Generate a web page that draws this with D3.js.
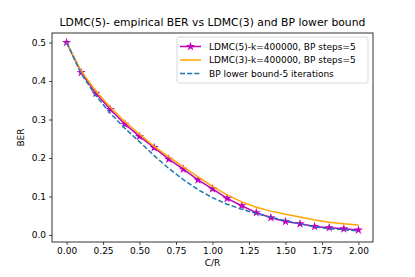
<!DOCTYPE html>
<html>
<head>
<meta charset="utf-8">
<script src="https://cdn.jsdelivr.net/npm/d3@7"></script>
<style>
html,body{margin:0;padding:0;background:#fff;}
svg{display:block;font-family:"DejaVu Sans",sans-serif;}
</style>
</head>
<body>
<svg id="chart" width="415" height="277"></svg>
<script>
const cr = [0,0.1,0.2,0.3,0.4,0.5,0.6,0.7,0.8,0.9,1.0,1.1,1.2,1.3,1.4,1.5,1.6,1.7,1.8,1.9,2.0];
const ldmc5 = [0.5,0.422,0.368,0.326,0.288,0.256,0.227,0.197,0.171,0.143,0.120,0.095,0.076,0.058,0.045,0.035,0.029,0.022,0.019,0.016,0.013];
const ldmc3 = [0.5,0.426,0.374,0.332,0.294,0.262,0.230,0.203,0.177,0.151,0.126,0.104,0.086,0.072,0.062,0.054,0.047,0.039,0.033,0.029,0.026];
const bpBound = [0.5,0.419,0.362,0.316,0.277,0.242,0.206,0.173,0.144,0.118,0.097,0.080,0.067,0.056,0.046,0.037,0.029,0.021,0.0165,0.0138,0.0105];
const xTicks = [0,0.25,0.5,0.75,1.0,1.25,1.5,1.75,2.0];
const yTicks = [0,0.1,0.2,0.3,0.4,0.5];
const seriesNames = ["LDMC(5)-k=400000, BP steps=5","LDMC(3)-k=400000, BP steps=5","BP lower bound-5 iterations"];
const titleText = "LDMC(5)- empirical BER vs LDMC(3) and BP lower bound";

const svg = d3.select("#chart");
const L = 52, R = 373, T = 33, B = 242;
const x = d3.scaleLinear().domain([-0.1, 2.1]).range([L, R]);
const y = d3.scaleLinear().domain([-0.0182, 0.5247]).range([B, T]);

const series = [
  {name: seriesNames[0], vals: ldmc5, color: "#bf00bf", dash: null, marker: true},
  {name: seriesNames[1], vals: ldmc3, color: "#ffa500", dash: null, marker: false},
  {name: seriesNames[2], vals: bpBound, color: "#1f77b4", dash: "5,2.2", marker: false}
];

const line = d3.line().x((d,i)=>x(cr[i])).y(d=>y(d));
const star = d3.symbol().type(d3.symbolStar).size(26);

series.forEach(s => {
  svg.append("path").attr("d", line(s.vals)).attr("fill","none")
    .attr("stroke", s.color).attr("stroke-width", 1.5)
    .attr("stroke-dasharray", s.dash);
  if (s.marker) {
    svg.selectAll(null).data(s.vals).enter().append("path")
      .attr("d", star)
      .attr("transform", (d,i)=>`translate(${x(cr[i])},${y(d)})`)
      .attr("fill", s.color);
  }
});

// axes
const xAxis = d3.axisBottom(x).tickValues(xTicks).tickFormat(d3.format(".2f")).tickSize(3).tickPadding(3);
const yAxis = d3.axisLeft(y).tickValues(yTicks).tickFormat(d3.format(".1f")).tickSize(3).tickPadding(3);
const gx = svg.append("g").attr("transform", `translate(0,${B})`).call(xAxis);
const gy = svg.append("g").attr("transform", `translate(${L},0)`).call(yAxis);
[gx, gy].forEach(g => {
  g.select(".domain").remove();
  g.selectAll("text").attr("font-size", 9).attr("font-family","DejaVu Sans").attr("fill","#000");
  g.selectAll("line").attr("stroke","#000").attr("stroke-width",0.7);
});

svg.append("rect").attr("x", L).attr("y", T).attr("width", R-L).attr("height", B-T)
  .attr("fill","none").attr("stroke","#000").attr("stroke-width",0.8);

// labels
svg.append("text").attr("x", (L+R)/2).attr("y", 266).attr("text-anchor","middle")
  .attr("font-size", 9).text("C/R");
svg.append("text").attr("transform", `translate(24,${(T+B)/2}) rotate(-90)`)
  .attr("text-anchor","middle").attr("font-size", 9).text("BER");
svg.append("text").attr("x", (L+R)/2).attr("y", 26).attr("text-anchor","middle")
  .attr("font-size", 10.8).text(titleText);

// legend
const lg = svg.append("g");
lg.append("rect").attr("x",177).attr("y",37).attr("width",191).attr("height",46)
  .attr("rx",2).attr("fill","#fff").attr("fill-opacity",0.8).attr("stroke","#d0d0d0").attr("stroke-width",0.8);
const ly = [46.5, 60, 73.5];
series.forEach((s,i) => {
  lg.append("line").attr("x1",180).attr("x2",201).attr("y1",ly[i]).attr("y2",ly[i])
    .attr("stroke", s.color).attr("stroke-width",1.5).attr("stroke-dasharray", s.dash);
  if (s.marker) lg.append("path").attr("d", star).attr("transform",`translate(190.5,${ly[i]})`).attr("fill", s.color);
  lg.append("text").attr("x",209).attr("y",ly[i]+3.3).attr("font-size",9).text(s.name);
});
</script>
</body>
</html>
